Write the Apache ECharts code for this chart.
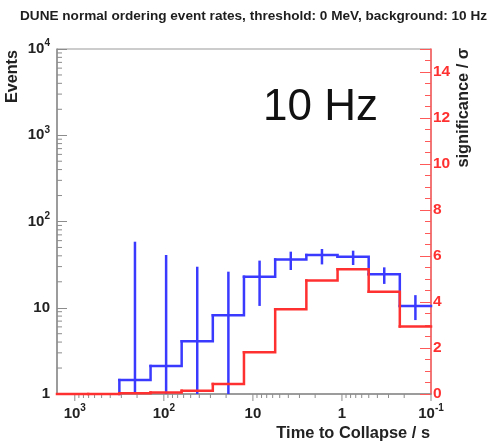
<!DOCTYPE html>
<html><head><meta charset="utf-8">
<script src="https://cdn.jsdelivr.net/npm/echarts@6/dist/echarts.min.js"></script>
<style>html,body{margin:0;padding:0;background:#fff}#c{width:489px;height:445px}</style>
</head><body><div id="c"></div>
<script>
// Bin edges (time to collapse, s), ascending
const binEdges = [0.1, 0.224, 0.501, 1.12, 2.51, 5.62, 12.6, 28.2, 63.1, 141, 316, 708, 1585];
// Events per bin (blue), ascending time order
const eventCounts = [10.5, 24.5, 39.1, 40.9, 36.3, 22.9, 8.2, 4.1, 2.11, 1.45, 0, 0];
// Error bar ends (0 = below axis)
const eventErrLow  = [7.2, 18.9, 31.3, 31.8, 27.4, 10.5, 0, 0, 0, 0];
const eventErrHigh = [14.0, 29.4, 45.9, 48.0, 44.7, 35.2, 26.2, 29.9, 40.9, 58.3];
// Significance per bin (red), ascending time order
const significance = [2.93, 4.45, 5.42, 4.93, 3.68, 1.81, 0.43, 0.14, 0.07, 0.03, 0, 0];
// Tick values
const xMajorTicks = [0.1, 1, 10, 100, 1000];
const yMajorTicks = [1, 10, 100, 1000, 10000];
const minorMultipliers = [2, 3, 4, 5, 6, 7, 8, 9];
const titleText = 'DUNE normal ordering event rates, threshold: 0 MeV, background: 10 Hz';

const FONT = 'Liberation Sans';
const BLUE = '#3a3aff', RED = '#ff3030', GRAY = '#8c8c8c';

function minorTicks(majors) {
  const out = [];
  majors.forEach(m => minorMultipliers.forEach(k => out.push(m * k)));
  return out;
}
const xMinor = minorTicks(xMajorTicks.slice(0, 4)).filter(v => v < binEdges[binEdges.length - 1]);
const yMinor = minorTicks(yMajorTicks.slice(0, 4));

function isPow10(v) { const l = Math.log10(v); return Math.abs(l - Math.round(l)) < 1e-6; }
function powLabel(v) {
  if (!isPow10(v)) return '';
  const e = Math.round(Math.log10(v));
  if (e === 0) return '{b|1}';
  if (e === 1) return '{b|10}';
  return '{b|10}{s|' + e + '}';
}
const richLab = {
  b: { fontFamily: FONT, fontWeight: 'bold', fontSize: 15, color: '#222', lineHeight: 21 },
  s: { fontFamily: FONT, fontWeight: 'bold', fontSize: 10, color: '#222', lineHeight: 11, verticalAlign: 'top' }
};

const histData = (vals) => vals.map((v, i) => [binEdges[i], binEdges[i + 1], v, i > 0 ? vals[i - 1] : 0, i > 0 ? 1 : 0]);
const errData = eventErrHigh.map((h, i) => [Math.sqrt(binEdges[i] * binEdges[i + 1]), eventErrLow[i], h]);

function histRender(color, isLog) {
  return function (params, api) {
    const cs = params.coordSys;
    const bottom = cs.y + cs.height;
    const lo = api.value(0), hi = api.value(1), v = api.value(2), prev = api.value(3), hasPrev = api.value(4);
    const ref = isLog ? 1 : 0;
    const yOf = (val) => {
      if (isLog && !(val > 0)) return bottom;
      return Math.min(api.coord([lo, val])[1], bottom);
    };
    const xa = api.coord([lo, ref])[0];
    const xb = api.coord([hi, ref])[0];
    const pts = [];
    if (hasPrev) pts.push([xa, yOf(prev)]);
    if (isLog && !(v > 0)) {
      if (hasPrev && prev > 0) pts.push([xa, bottom]);
    } else {
      pts.push([xa, yOf(v)], [xb, yOf(v)]);
    }
    if (pts.length < 2) return null;
    return { type: 'polyline', shape: { points: pts },
      style: { stroke: color, lineWidth: 2.5, fill: null, lineCap: 'square', lineJoin: 'miter' } };
  };
}

const chart = echarts.init(document.getElementById('c'), null, { renderer: 'canvas' });
chart.setOption({
  animation: false,
  backgroundColor: '#fff',
  title: { text: titleText, left: 20, top: 9, padding: 0,
    textStyle: { fontFamily: FONT, fontWeight: 'bold', fontSize: 13.6, color: '#1e1e1e' } },
  grid: { left: 57, right: 58, top: 49, bottom: 51, show: true, borderColor: '#999', borderWidth: 1 },
  xAxis: {
    type: 'log', logBase: 10, inverse: true, min: 0.1, max: binEdges[binEdges.length - 1],
    axisLine: { show: true, lineStyle: { color: GRAY, width: 1.5 } },
    axisTick: { show: false },
    splitLine: { show: false },
    axisLabel: { margin: 9, formatter: powLabel, rich: richLab, showMinLabel: true, showMaxLabel: true, hideOverlap: false }
  },
  yAxis: [
    {
      type: 'log', logBase: 10, min: 1, max: 10000, position: 'left',
      axisLine: { show: true, lineStyle: { color: GRAY, width: 1.5 } },
      axisTick: { show: true, inside: true, length: 10, lineStyle: { color: GRAY, width: 1 } },
      splitLine: { show: false },
      axisLabel: { margin: 7, formatter: powLabel, rich: richLab }
    },
    {
      type: 'value', min: 0, max: 15, interval: 2, position: 'right',
      axisLine: { show: true, lineStyle: { color: '#ff5a5a', width: 1.5 } },
      axisTick: { show: true, inside: true, length: 11, lineStyle: { color: '#ff5a5a', width: 1 } },
      minorTick: { show: true, splitNumber: 4, length: 6, lineStyle: { color: '#ff5a5a', width: 1 } },
      splitLine: { show: false },
      axisLabel: { margin: 2, color: RED, fontFamily: FONT, fontWeight: 'bold', fontSize: 15.5,
        formatter: v => (Math.abs(v - Math.round(v)) < 1e-9 && Math.round(v) % 2 === 0) ? String(Math.round(v)) : '' }
    }
  ],
  graphic: [
    { type: 'text', left: 263, top: 86, style: { text: '10 Hz', font: '44px "Liberation Sans"', fill: '#111' } },
    { type: 'text', x: 12.5, y: 50, rotation: Math.PI / 2,
      style: { text: 'Events', font: 'bold 16.2px "Liberation Sans"', fill: '#222', align: 'right', verticalAlign: 'middle' } },
    { type: 'text', x: 463, y: 48, rotation: Math.PI / 2,
      style: { text: 'significance / σ', font: 'bold 16.4px "Liberation Sans"', fill: '#222', align: 'right', verticalAlign: 'middle' } },
    { type: 'text', x: 430, y: 433,
      style: { text: 'Time to Collapse / s', font: 'bold 16.4px "Liberation Sans"', fill: '#222', align: 'right', verticalAlign: 'middle' } }
  ],
  series: [
    { type: 'custom', name: 'xticks', xAxisIndex: 0, yAxisIndex: 0, silent: true, z: 1,
      data: xMajorTicks.concat(xMinor).map(v => [v, 1]),
      renderItem: (params, api) => {
        const cs = params.coordSys; const yb = cs.y + cs.height;
        const v = api.value(0); const x = api.coord([v, 1])[0];
        const len = isPow10(v) ? 7 : 4;
        return { type: 'line', shape: { x1: x, y1: yb, x2: x, y2: yb + len }, style: { stroke: GRAY, lineWidth: 1 } };
      } },
    { type: 'custom', name: 'yticks', xAxisIndex: 0, yAxisIndex: 0, silent: true, z: 1,
      data: yMinor.map(v => [1, v]),
      renderItem: (params, api) => {
        const cs = params.coordSys;
        const y = api.coord([1, api.value(1)])[1];
        return { type: 'line', shape: { x1: cs.x, y1: y, x2: cs.x + 5, y2: y }, style: { stroke: GRAY, lineWidth: 1 } };
      } },
    { type: 'custom', name: 'Events', xAxisIndex: 0, yAxisIndex: 0, z: 3,
      data: histData(eventCounts), renderItem: histRender(BLUE, true) },
    { type: 'custom', name: 'Events error', xAxisIndex: 0, yAxisIndex: 0, z: 3,
      data: errData,
      renderItem: (params, api) => {
        const cs = params.coordSys; const bottom = cs.y + cs.height;
        const c = api.value(0), lo = api.value(1), hi = api.value(2);
        const x = api.coord([c, 1])[0];
        const yT = api.coord([c, hi])[1];
        const yB = lo > 0 ? Math.min(api.coord([c, lo])[1], bottom) : bottom;
        return { type: 'line', shape: { x1: x, y1: yT, x2: x, y2: yB }, style: { stroke: BLUE, lineWidth: 2.5 } };
      } },
    { type: 'custom', name: 'significance', xAxisIndex: 0, yAxisIndex: 1, z: 4,
      data: histData(significance), renderItem: histRender(RED, false) }
  ]
});
</script>
</body></html>
